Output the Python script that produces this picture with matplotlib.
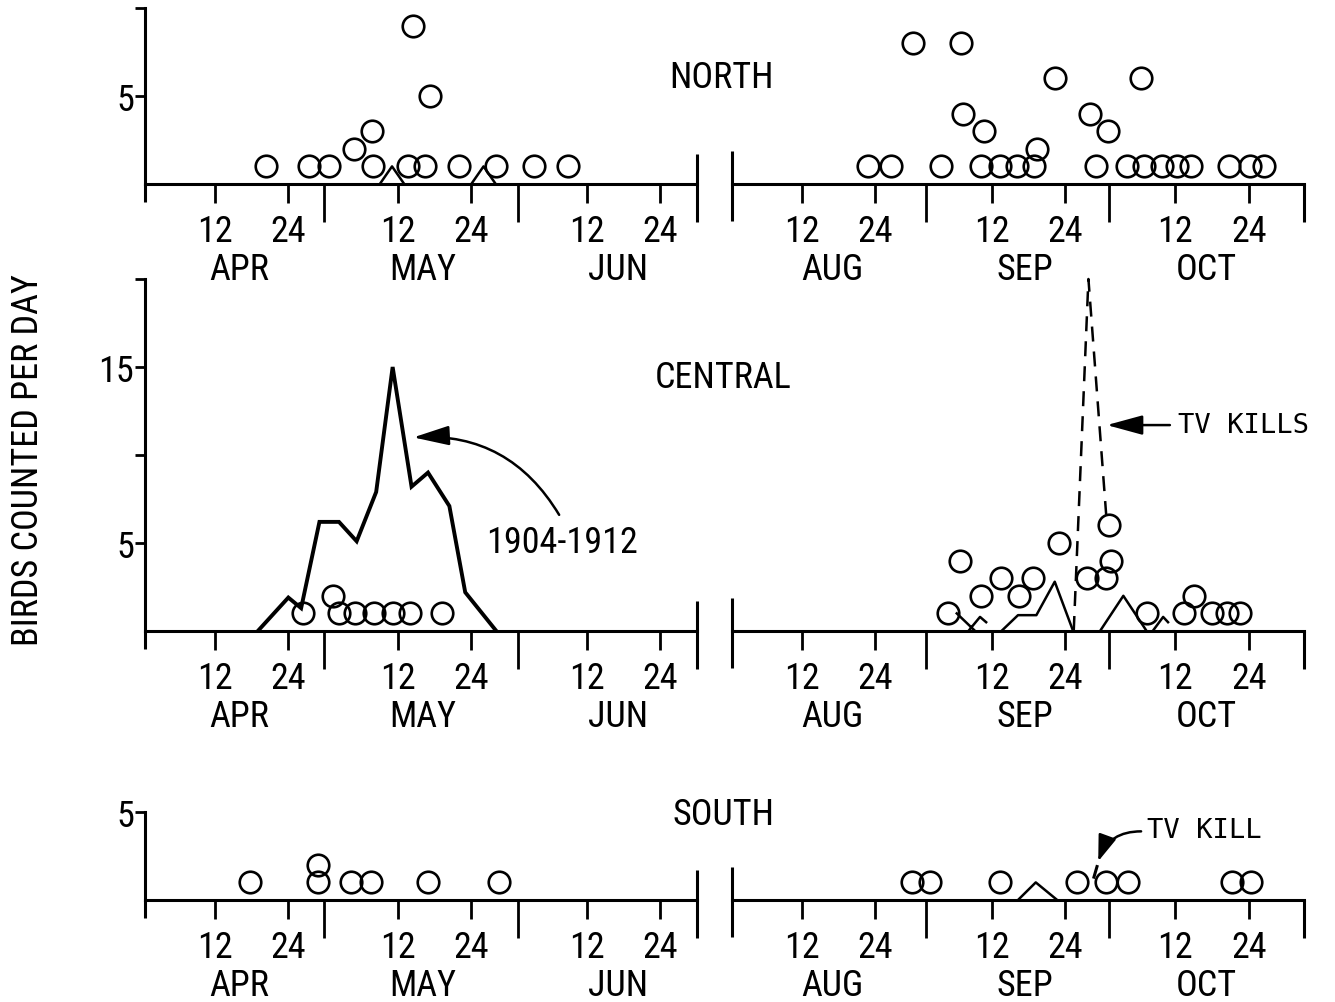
import numpy as np
import matplotlib
matplotlib.use("Agg")
import matplotlib.pyplot as plt
from matplotlib import font_manager

# --- fuentes ---------------------------------------------------------------
_names = {f.name for f in font_manager.fontManager.ttflist}
NARROW = next((n for n in ["Liberation Sans Narrow", "Roboto Condensed",
                           "DejaVu Sans"] if n in _names), "DejaVu Sans")
plt.rcParams["font.family"] = [NARROW, "DejaVu Sans"]

W, H = 1335, 1003
PX = 17.6          # pixeles por ave (misma escala vertical en los 3 paneles)
NAN = np.nan

# --- datos (dias: primavera desde 1 abr = 0, otono desde 1 ago = 0) --------
north_spring_day = [19.4, 26.4, 29.7, 33.8, 36.7, 36.9, 42.6, 43.5, 45.4,
                    46.3, 50.9, 57.0, 63.2, 68.8]
north_spring_n = [1, 1, 1, 2, 3, 1, 1, 9, 1, 5, 1, 1, 1, 1]
north_spring_line_day = [38, 40, 42, NAN, 53, 55, 57]
north_spring_line_n = [0, 1, 0, NAN, 0, 1, 0]

north_fall_day = [21.8, 25.5, 29.1, 33.8, 37.0, 37.3, 40.2, 40.7, 43.3, 46.1,
                  48.9, 49.4, 52.3, 58.0, 59.1, 61.0, 64.1, 66.4, 66.8, 69.8,
                  72.2, 74.5, 80.7, 84.2, 86.5]
north_fall_n = [1, 1, 8, 1, 8, 4, 1, 3, 1, 1, 1, 2, 6, 4, 1, 3, 1, 6, 1, 1,
                1, 1, 1, 1, 1]

central_spring_day = [25.4, 30.4, 31.3, 34.0, 37.0, 40.1, 43.0, 48.2]
central_spring_n = [1, 2, 1, 1, 1, 1, 1, 1]
old_day = [18.0, 23.0, 25.1, 28.1, 31.3, 34.2, 37.4, 40.1, 43.2, 45.9, 49.4,
           52.0, 57.1]
old_n = [0, 1.9, 1.3, 6.2, 6.2, 5.1, 7.9, 15.0, 8.2, 9.0, 7.1, 2.2, 0]

central_fall_day = [34.9, 36.8, 40.2, 43.6, 46.4, 48.8, 53.0, 57.6, 60.6,
                    61.5, 61.1, 67.4, 73.4, 75.1, 78.0, 80.4, 82.5]
central_fall_n = [1, 4, 2, 3, 2, 3, 5, 3, 3, 4, 6, 1, 1, 2, 1, 1, 1]
central_fall_line_day = [36.3, 39.3, NAN, 38.2, 40.1, 41.1, NAN, 43.6, 46.3,
                         49.3, 52.3, 55.3, NAN, 59.7, 63.5, 67.3, NAN, 68.3,
                         70.0, 70.8]
central_fall_line_n = [1, 0, NAN, 0, 0.8, 0.5, NAN, 0, 0.9, 0.9, 2.8, 0, NAN,
                       0, 2.0, 0, NAN, 0, 0.8, 0.5]
tv_day = [55.4, 57.8, 60.7]
tv_n = [0, 20, 6.6]

south_spring_day = [16.7, 27.9, 27.9, 33.3, 36.5, 45.9, 57.6]
south_spring_n = [1, 2, 1, 1, 1, 1, 1]
south_fall_day = [29.0, 31.9, 43.3, 55.9, 60.7, 64.3, 81.2, 84.3]
south_fall_n = [1, 1, 1, 1, 1, 1, 1, 1]
south_fall_line_day = [46.3, 49.2, 52.7]
south_fall_line_n = [0, 1, 0]
tv_south_day = [58.7, 59.2]
tv_south_n = [1.3, 1.9]

SPRING_TICKS = [11, 23, 41, 53, 72, 84]
SPRING_EDGES = [28.8, 60.7]
SPRING_MONTHS = [("APR", 15), ("MAY", 45), ("JUN", 77)]
FALL_TICKS = [11, 23, 42, 54, 72, 84]
FALL_EDGES = [31.3, 61.1]
FALL_MONTHS = [("AUG", 16), ("SEP", 47.5), ("OCT", 77)]
TICK_LABELS = ["12", "24", "12", "24", "12", "24"]

FS = 26
LW_AX = 2.2


def eje(rect, xlim, ymax, ticks, edges, months, spring, yticks=(), ylabels=()):
    ax = fig.add_axes(rect)
    ax.set_xlim(*xlim)
    ax.set_ylim(0, ymax)
    ax.patch.set_alpha(0)
    for s in ("top", "right"):
        ax.spines[s].set_visible(False)
    ax.spines["bottom"].set_linewidth(LW_AX)
    ax.spines["left"].set_linewidth(LW_AX)
    ax.set_xticks(ticks, labels=TICK_LABELS)
    ax.set_xticks(edges, minor=True)
    ax.tick_params(axis="x", which="major", length=14, width=2, pad=7,
                   labelsize=FS)
    ax.tick_params(axis="x", which="minor", length=27, width=2)
    for name, d in months:
        ax.annotate(name, xy=(d, 0), xycoords=("data", "axes fraction"),
                    xytext=(0, -61), textcoords="offset points",
                    ha="center", va="center", fontsize=FS)
    k = dict(color="black", lw=2.2, clip_on=False, solid_capstyle="butt")
    if spring:
        ax.set_yticks(yticks, labels=ylabels)
        ax.tick_params(axis="y", length=7, width=2, pad=1, labelsize=FS)
        ax.plot([xlim[0]] * 2, [0, -18 / PX], **k)
        ax.plot([xlim[1]] * 2, [30 / PX, -38 / PX], **k)
    else:
        ax.spines["left"].set_visible(False)
        ax.set_yticks([])
        ax.plot([xlim[0]] * 2, [33 / PX, -37 / PX], **k)
        ax.plot([xlim[1]] * 2, [0, -38 / PX], **k)
    return ax


def circulos(ax, d, n):
    ax.plot(d, n, "o", ms=15.5, mfc="none", mec="black", mew=1.9,
            clip_on=False, zorder=3)


def flecha(ax, tip, tail, rad=0.0, hl=1.1, hw=0.3):
    ax.annotate("", xy=tip, xytext=tail,
                arrowprops=dict(arrowstyle=f"-|>,head_length={hl},head_width={hw}",
                                lw=1.8, color="black",
                                connectionstyle=f"arc3,rad={rad}",
                                mutation_scale=20, shrinkA=0, shrinkB=0))


fig = plt.figure(figsize=(W / 100, H / 100), dpi=100)
fig.patch.set_facecolor("white")

SP = (145 / W, (697 - 145) / W)
FA = (732 / W, (1304 - 732) / W)
SP_LIM = (-0.5, 90)
FA_LIM = (-0.4, 93)


def fila(base_px, ymax):
    return (H - base_px) / H, ymax * PX / H


# NORTE
b, h = fila(185, 10)
axn1 = eje([SP[0], b, SP[1], h], SP_LIM, 10, SPRING_TICKS, SPRING_EDGES,
           SPRING_MONTHS, True, [5, 10], ["5", ""])
axn2 = eje([FA[0], b, FA[1], h], FA_LIM, 10, FALL_TICKS, FALL_EDGES,
           FALL_MONTHS, False)
circulos(axn1, north_spring_day, north_spring_n)
axn1.plot(north_spring_line_day, north_spring_line_n, color="black", lw=1.8)
circulos(axn2, north_fall_day, north_fall_n)

# CENTRO
b, h = fila(632, 20)
axc1 = eje([SP[0], b, SP[1], h], SP_LIM, 20, SPRING_TICKS, SPRING_EDGES,
           SPRING_MONTHS, True, [5, 10, 15, 20], ["5", "", "15", ""])
axc2 = eje([FA[0], b, FA[1], h], FA_LIM, 20, FALL_TICKS, FALL_EDGES,
           FALL_MONTHS, False)
axc1.plot(old_day, old_n, color="black", lw=2.8, solid_joinstyle="miter")
circulos(axc1, central_spring_day, central_spring_n)
axc1.text(67.9, 5.06, "1904-1912", ha="center", va="center", fontsize=FS)
flecha(axc1, (43.5, 11.0), (67.4, 6.6), rad=0.3)
circulos(axc2, central_fall_day, central_fall_n)
axc2.plot(central_fall_line_day, central_fall_line_n, color="black", lw=1.8)
axc2.plot(tv_day, tv_n, color="black", lw=1.8, ls=(0, (6, 4)), clip_on=False)
flecha(axc2, (60.8, 11.7), (71.1, 11.7))
axc2.text(72.4, 11.7, "TV KILLS", ha="left", va="center", fontsize=19.5,
          family="DejaVu Sans Mono")

# SUR
b, h = fila(901, 5)
axs1 = eje([SP[0], b, SP[1], h], SP_LIM, 5, SPRING_TICKS, SPRING_EDGES,
           SPRING_MONTHS, True, [5], ["5"])
axs2 = eje([FA[0], b, FA[1], h], FA_LIM, 5, FALL_TICKS, FALL_EDGES,
           FALL_MONTHS, False)
circulos(axs1, south_spring_day, south_spring_n)
circulos(axs2, south_fall_day, south_fall_n)
axs2.plot(south_fall_line_day, south_fall_line_n, color="black", lw=1.8)
axs2.plot(tv_south_day, tv_south_n, color="black", lw=2.2)
flecha(axs2, (59.4, 2.2), (66.4, 3.9), rad=0.35, hl=0.8, hw=0.28)
axs2.text(67.3, 3.95, "TV KILL", ha="left", va="center", fontsize=19.5,
          family="DejaVu Sans Mono")

# textos de panel y eje
for txt, x, y in [("NORTH", 722, 78), ("CENTRAL", 723, 378), ("SOUTH", 724, 815)]:
    fig.text(x / W, 1 - y / H, txt, ha="center", va="center", fontsize=FS)
fig.text(28 / W, 1 - 460 / H, "BIRDS COUNTED PER DAY", rotation=90,
         ha="center", va="center", fontsize=FS)

fig.savefig("out.png", dpi=100)
